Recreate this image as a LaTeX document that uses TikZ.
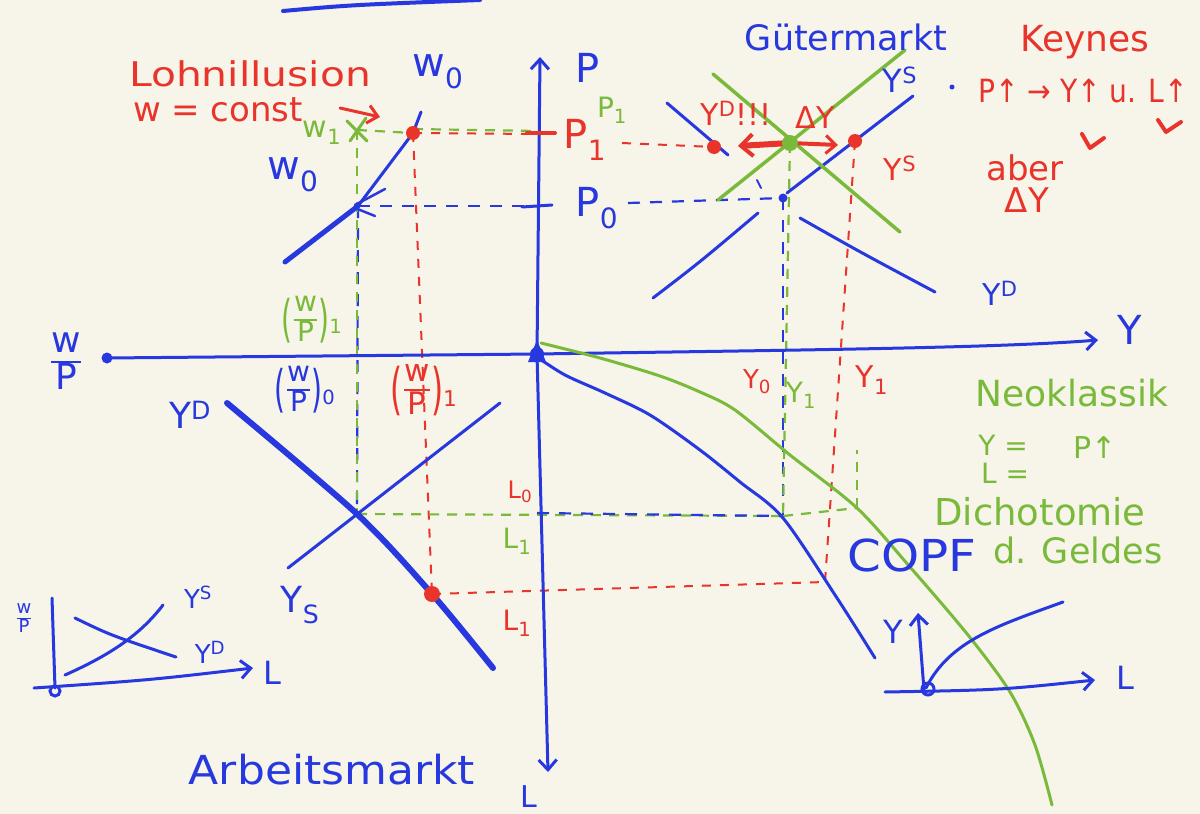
\documentclass[tikz,border=0pt]{standalone}
\usepackage{fontspec}
\setmainfont{DejaVu Sans}
\usepackage{graphicx}
\usetikzlibrary{arrows.meta}
\definecolor{bl}{RGB}{38,56,222}
\definecolor{rd}{RGB}{232,52,42}
\definecolor{gr}{RGB}{122,186,58}
\definecolor{bg}{RGB}{247,244,234}
\newcommand\fsz[1]{\fontsize{#1}{#1}\selectfont}
\newcommand\hs[2]{\scalebox{#1}[1]{#2}}
\newcommand\wpf{{\setlength\arrayrulewidth{0.07em}\renewcommand\arraystretch{0.8}\begin{tabular}{@{}c@{}}w\\\hline P\end{tabular}}}
\newcommand\lpar{\raisebox{-0.55ex}{\scalebox{1}[1.8]{(}}\kern0.05em}
\newcommand\rpar{\kern0.05em\raisebox{-0.55ex}{\scalebox{1}[1.8]{)}}}
\begin{document}
\begin{tikzpicture}[x=1pt,y=-1pt,
  lab/.style={inner sep=0pt, outer sep=0pt},
  bpen/.style={draw=bl, line width=3pt, line cap=round, line join=round},
  rpen/.style={draw=rd, line width=3pt, line cap=round, line join=round},
  gpen/.style={draw=gr, line width=3pt, line cap=round, line join=round},
  bdash/.style={draw=bl, line width=2.2pt, dash pattern=on 12pt off 10pt},
  rdash/.style={draw=rd, line width=2pt, dash pattern=on 9pt off 9pt},
  gdash/.style={draw=gr, line width=2.2pt, dash pattern=on 10pt off 8pt},
  tip/.style={-{Straight Barb[length=10pt,width=18pt,line width=3pt]}},
  bigtip/.style={-{Straight Barb[length=12pt,width=22pt,line width=4pt]}},
]
\useasboundingbox (0,0) rectangle (1200,814);
\fill[bg] (0,0) rectangle (1200,814);

% ---------- key points ----------
\coordinate (O) at (537,354);
\coordinate (Ptop) at (540,57);
\coordinate (Lbot) at (548,772);
\coordinate (WPend) at (107,358);
\coordinate (Yend) at (1098,340);
\coordinate (Xw0) at (358,206);
\coordinate (Rw) at (413,133);
\coordinate (Gw) at (357,130);
\coordinate (PaxR) at (537,134);
\coordinate (PaxB) at (530,206);
\coordinate (RD) at (714,147);
\coordinate (RS) at (855,141);
\coordinate (G) at (790,143);
\coordinate (Bd) at (783,198);
\coordinate (LX) at (357,514);
\coordinate (Rl) at (432,594);
\coordinate (Pf0) at (783,516);
\coordinate (Pf1) at (825,582);
\coordinate (Pg1) at (857,508);
\coordinate (Pg1top) at (857,450);
\coordinate (Lax0) at (537,513);

% ---------- top stroke ----------
\draw[bpen, line width=4pt] (283,11) .. controls (350,5) .. (480,0);

% ---------- dashed guide lines ----------
\draw[bdash] (Xw0) -- (LX);
\draw[gdash] (Gw) -- (LX);
\draw[gdash] (Gw) -- (Rw);
\draw[rdash] (Rw) -- (PaxR);
\draw[gdash] ([yshift=4pt]Rw) -- ([yshift=3pt]PaxR);
\draw[rdash] (Rw) -- (Rl);
\draw[bdash] (Xw0) -- (PaxB);
\draw[rdash] (622,143) -- (RD);
\draw[bdash] (628,203) -- (Bd);
\draw[bdash] (Bd) -- (Pf0);
\draw[gdash] (G) -- (Pf0);
\draw[rdash] (RS) -- (Pf1);
\draw[gdash] (LX) -- (Pf0);
\draw[bdash] (Lax0) -- (Pf0);
\draw[gdash] (Pf0) -- (Pg1);
\draw[gdash] (Pg1) -- (Pg1top);
\draw[rdash] (Rl) -- (Pf1);

% ---------- axes ----------
\draw[bpen,tip] (O) -- (Ptop);
\draw[bpen,tip] (O) -- (Lbot);
\draw[bpen,tip] (O) .. controls (800,350) and (1000,348) .. (Yend);
\draw[bpen] (O) -- (WPend);
\fill[bl] (WPend) circle (5.5);
\fill[bl] (O) circle (7);
\fill[bl] (528,362) -- (537,340) -- (546,362) -- cycle;
\draw[rpen, line width=4pt] (527,133) -- (555,133);
\draw[bpen] (522,207) -- (552,205);

% ---------- wage / price quadrant ----------
\draw[bpen, line width=5pt] (285,262) -- (Xw0);
\draw[bpen] (Xw0) -- (Rw) -- (421,112);
\draw[bpen, line width=2.5pt] (355,205) -- (385,189);
\draw[bpen, line width=2.5pt] (355,208) -- (375,216);
\draw[gpen] (347,121) -- (367,141);
\draw[gpen] (350,141) -- (366,118);
\fill[rd] (Rw) circle (7);

% ---------- goods market ----------
\draw[bpen] (667,103) -- (728,155);
\draw[bpen] (787,193) -- (913,96);
\draw[bpen] (653,298) .. controls (700,262) .. (758,213);
\draw[bpen] (800,218) .. controls (860,252) .. (935,292);
\draw[bpen, line width=2pt] (757,180) -- (761,188);
\fill[bl] (Bd) circle (4.5);
\fill[bl] (952,87) circle (2.5);
\draw[gpen, line width=3.5pt] (718,200) -- (905,50);
\draw[gpen, line width=3.5pt] (713,74) -- (900,232);
\draw[rpen, line width=6pt, bigtip] (G) -- (738,146);
\draw[rpen, line width=4pt, tip] (G) -- (838,145);
\fill[gr] (G) circle (8);
\fill[rd] (RD) circle (7);
\fill[rd] (RS) circle (7);

% ---------- labour market ----------
\draw[bl, line width=6pt, line cap=round] plot[smooth] coordinates {(227,403) (357,514) (432,594) (493,668)};
\draw[bpen] (288,568) -- (500,403);
\fill[rd] (Rl) circle (8);

% ---------- production function ----------
\draw[bpen] plot[smooth] coordinates {(537,357) (565,375) (605,393) (650,415) (700,450) (740,482) (783,518) (837,598) (875,658)};
\draw[gpen] plot[smooth] coordinates {(541,343) (600,358) (660,376) (700,392) (735,410) (790,455) (857,508) (910,567) (968,635) (1010,692) (1035,745) (1052,805)};

% ---------- insets ----------
\draw[bpen] (52,598) -- (55,688);
\draw[bpen,tip] (34,688) .. controls (150,680) .. (253,668);
\draw[bl, line width=3pt] (55,691) circle (5);
\draw[bpen] (65,675) .. controls (110,655) and (140,635) .. (163,605);
\draw[bpen] (75,618) .. controls (110,635) .. (176,657);
\draw[bpen,tip] (924,690) -- (918,613);
\draw[bpen,tip] (885,692) .. controls (1000,690) .. (1095,680);
\draw[bpen] (926,688) .. controls (950,640) and (1000,625) .. (1063,602);
\draw[bl, line width=3pt] (928,689) circle (6);

% ---------- red notes ----------
\draw[rpen, tip] (340,108) -- (380,117);
\draw[rpen, line width=4pt] (1082,134) -- (1090,148) -- (1104,138);
\draw[rpen, line width=4pt] (1158,120) -- (1166,132) -- (1181,122);

% ---------- labels ----------
\node[lab,rd,font=\fsz{34}] (lohn) at (250,74) {\hs{1.2}{Lohnillusion}};
\node[lab,rd,font=\fsz{34}] (const) at (218,110) {w = const};
\node[lab,bl,font=\fsz{40}] (w0a) at (438,72) {w\textsubscript{0}};
\node[lab,gr,font=\fsz{30}] (w1) at (322,133) {w\textsubscript{1}};
\node[lab,bl,font=\fsz{40}] (w0b) at (293,175) {w\textsubscript{0}};
\node[lab,bl,font=\fsz{40}] (P) at (588,68) {P};
\node[lab,rd,font=\fsz{40}] (P1r) at (585,140) {P\textsubscript{1}};
\node[lab,gr,font=\fsz{28}] (P1g) at (612,110) {P\textsubscript{1}};
\node[lab,bl,font=\fsz{40}] (P0) at (597,208) {P\textsubscript{0}};
\node[lab,bl,font=\fsz{35}] (guet) at (846,37) {Gütermarkt};
\node[lab,rd,font=\fsz{36}] (keyn) at (1085,42) {Keynes};
\node[lab,bl,font=\fsz{32}] (YSb) at (900,80) {Y\textsuperscript{S}};
\node[lab,rd,font=\fsz{30}] (YDr) at (736,113) {Y\textsuperscript{D}!!!};
\node[lab,rd,font=\fsz{30}] (dYr) at (815,118) {ΔY};
\node[lab,rd,font=\fsz{30}] (YSr) at (900,168) {Y\textsuperscript{S}};
\node[lab,rd,font=\fsz{32}] (pyl) at (1083,91) {\hs{0.88}{P↑ → Y↑ u. L↑}};
\node[lab,rd,font=\fsz{34}] (aber) at (1025,168) {aber};
\node[lab,rd,font=\fsz{34}] (dY2) at (1027,200) {ΔY};
\node[lab,bl,font=\fsz{30}] (YDb) at (1000,293) {Y\textsuperscript{D}};
\node[lab,bl,font=\fsz{40}] (Ylab) at (1130,330) {Y};
\node[lab,bl,font=\fsz{36}] (wpax) at (66,365) {\wpf};
\node[lab,gr,font=\fsz{28}] (wp1g) at (312,322) {\lpar\wpf\rpar\textsubscript{1}};
\node[lab,bl,font=\fsz{28}] (wp0b) at (305,392) {\lpar\wpf\rpar\textsubscript{0}};
\node[lab,rd,font=\fsz{31}] (wp1r) at (424,393) {\lpar\wpf\rpar\textsubscript{1}};
\node[lab,bl,font=\fsz{36}] (YD) at (190,415) {Y\textsuperscript{D}};
\node[lab,bl,font=\fsz{36}] (YS) at (300,605) {Y\textsubscript{S}};
\node[lab,rd,font=\fsz{24}] (L0) at (520,492) {L\textsubscript{0}};
\node[lab,gr,font=\fsz{28}] (L1g) at (517,541) {L\textsubscript{1}};
\node[lab,rd,font=\fsz{28}] (L1r) at (517,623) {L\textsubscript{1}};
\node[lab,rd,font=\fsz{26}] (Y0r) at (757,382) {Y\textsubscript{0}};
\node[lab,gr,font=\fsz{28}] (Y1g) at (801,395) {Y\textsubscript{1}};
\node[lab,rd,font=\fsz{30}] (Y1r) at (872,380) {Y\textsubscript{1}};
\node[lab,gr,font=\fsz{36}] (neo) at (1072,393) {Neoklassik};
\node[lab,gr,font=\fsz{28}] (Yeq) at (1003,445) {Y =};
\node[lab,gr,font=\fsz{28}] (Leq) at (1005,473) {L =};
\node[lab,gr,font=\fsz{30}] (Pup) at (1095,448) {P↑};
\node[lab,gr,font=\fsz{37}] (dich) at (1040,512) {Dichotomie};
\node[lab,bl,font=\fsz{44}] (copf) at (912,555) {\hs{1.1}{COPF}};
\node[lab,gr,font=\fsz{35}] (geld) at (1078,550) {d. Geldes};
\node[lab,bl,font=\fsz{40}] (arb) at (332,770) {\hs{1.1}{Arbeitsmarkt}};
\node[lab,bl,font=\fsz{30}] (Lbl) at (529,797) {L};
\node[lab,bl,font=\fsz{18}] (wpi) at (24,620) {\wpf};
\node[lab,bl,font=\fsz{26}] (YSi) at (198,597) {Y\textsuperscript{S}};
\node[lab,bl,font=\fsz{26}] (YDi) at (210,652) {Y\textsuperscript{D}};
\node[lab,bl,font=\fsz{32}] (Li) at (272,673) {L};
\node[lab,bl,font=\fsz{32}] (Yi2) at (893,632) {Y};
\node[lab,bl,font=\fsz{32}] (Li2) at (1125,678) {L};
\end{tikzpicture}
\end{document}
